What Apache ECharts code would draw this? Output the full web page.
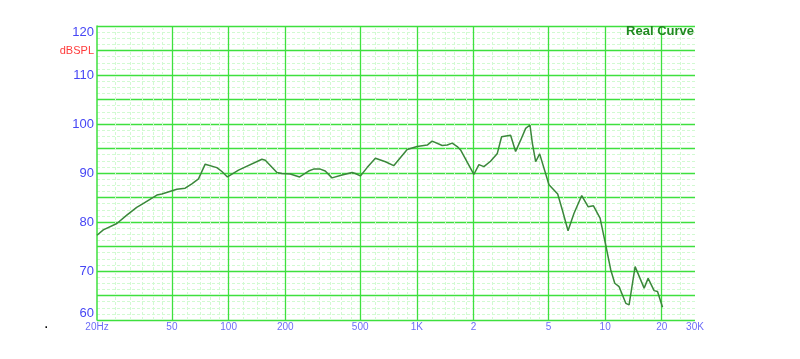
<!DOCTYPE html>
<html><head><meta charset="utf-8">
<script src="https://cdn.jsdelivr.net/npm/echarts@6/dist/echarts.min.js"></script>
<style>html,body{margin:0;padding:0;background:#fff}#c{width:800px;height:359px}</style>
</head><body><div id="c"></div>
<script>
// Frequency response data (Hz, dBSPL)
const freqHz = [20,21.6,25.5,28.8,32.5,35.3,41.6,44.2,53.1,58.8,63.8,69.2,75.1,86.6,92.1,98.6,112.9,150.3,156.6,180.6,192,212.6,238.3,266,282.8,307,326,354,400.6,452.8,471,501,544,602,681,753,888,1003,1135,1205,1363,1449,1540,1638,1706,2007,2135,2269,2462,2674,2818,3146,3344,3557,3782,3987,4104,4274,4488,5030,5596,5928,6350,6834,7508,8128,8666,9396,10072,10710,11246,11856,12872,13398,14422,16104,16910,18200,18970,20170];
const levelDb = [77.3,78.4,79.7,81.4,83.0,83.8,85.5,85.7,86.7,86.9,87.8,88.8,91.8,91.1,90.3,89.2,90.6,92.8,92.6,90.1,89.9,89.8,89.2,90.4,90.8,90.8,90.4,89.0,89.6,90.1,89.9,89.4,91.1,93.0,92.3,91.5,94.8,95.4,95.7,96.5,95.6,95.7,96.1,95.4,94.7,89.7,91.7,91.3,92.4,94.0,97.4,97.7,94.4,96.7,99.1,99.8,96.1,92.3,93.9,87.6,85.7,82.4,78.2,81.8,85.4,83.1,83.3,80.8,75.3,70.2,67.5,66.8,63.4,63.1,70.9,66.5,68.5,66.0,65.8,62.6];
const majorFreqs = [20,50,100,200,500,1000,2000,5000,10000,20000,30000];
const minorFreqs = [25,30,35,40,45,60,70,80,90,120,140,160,180,250,300,350,400,450,600,700,800,900,1200,1400,1600,1800,2500,3000,3500,4000,4500,6000,7000,8000,9000,12000,14000,16000,18000,25000];
const xTickFreqs = [20,50,100,200,500,1000,2000,5000,10000,20000,30000];
const xTickLabels = ['20Hz','50','100','200','500','1K','2','5','10','20','30K'];
const yMin = 60, yMax = 120, yStep = 5;

const lg = Math.log10;
const majorColor = '#3ee03e', minorColor = '#d2fad2', labelBlue = '#4646f5';

const chart = echarts.init(document.getElementById('c'), null, {renderer:'canvas'});
chart.setOption({
  animation:false,
  backgroundColor:'#ffffff',
  title:{text:'Real Curve', right:106, top:25, padding:0,
    textStyle:{fontFamily:'Liberation Sans, Arial, sans-serif', fontSize:13, fontWeight:'bold', color:'#1f8a1f'}},
  graphic:[{type:'text', left:44, top:316, style:{text:'.', fontSize:16, fill:'#000', fontFamily:'Liberation Sans'}}],
  grid:{left:97, right:105, top:26, bottom:39, containLabel:false},
  xAxis:{type:'value', min:lg(20), max:lg(30000), axisLine:{show:false}, axisTick:{show:false},
    axisLabel:{show:false}, splitLine:{show:false}},
  yAxis:{type:'value', min:yMin, max:yMax, interval:yStep,
    axisLine:{show:true, lineStyle:{color:majorColor, width:1.5}}, axisTick:{show:false},
    axisLabel:{margin:3, fontFamily:'Liberation Sans, Arial, sans-serif', fontSize:13, color:labelBlue,
      verticalAlignMaxLabel:'top', verticalAlignMinLabel:'bottom',
      formatter:function(v){ if(v%10===0) return String(v); if(v===115) return '{r|dBSPL}'; return ''; },
      rich:{r:{color:'#ff3b3b', fontSize:11, fontFamily:'Liberation Sans, Arial, sans-serif'}}},
    splitLine:{show:true, lineStyle:{color:majorColor, width:1.3}},
    minorTick:{show:false, splitNumber:4},
    minorSplitLine:{show:true, lineStyle:{color:minorColor, width:1, type:[3,2]}}},
  series:[
    {type:'line', data:[], z:1, silent:true,
      markLine:{silent:true, symbol:['none','none'], label:{show:false}, animation:false,
        data:minorFreqs.map(f=>({xAxis:lg(f), lineStyle:{color:minorColor, width:1, type:[3,2]}}))}},
    {type:'line', data:[], z:2, silent:true,
      markLine:{silent:true, symbol:['none','none'], label:{show:false}, animation:false,
        data:majorFreqs.map(f=>({xAxis:lg(f), lineStyle:{color:majorColor, width:1.3, type:'solid'}}))}},
    {type:'scatter', z:3, silent:true, symbolSize:0,
      data:xTickFreqs.map((f,i)=>({value:[lg(f), yMin], label:{formatter:xTickLabels[i]}})),
      label:{show:true, position:'bottom', distance:2, fontFamily:'Liberation Sans, Arial, sans-serif', fontSize:10, color:labelBlue}},
    {type:'line', z:5, silent:true, showSymbol:false, smooth:false,
      data:freqHz.map((f,i)=>[lg(f), levelDb[i]]),
      lineStyle:{color:'#3a873a', width:1.5}}
  ]
});
</script></body></html>
